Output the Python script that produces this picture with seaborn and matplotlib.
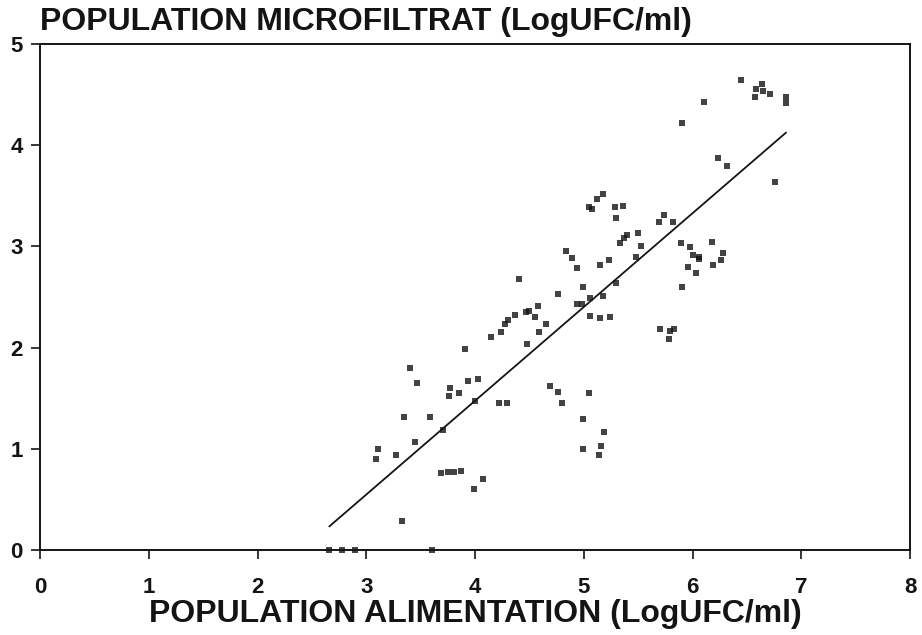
import numpy as np
import pandas as pd
import matplotlib.pyplot as plt
import seaborn as sns

# Population in the feed (x) and in the microfiltrate (y), LogUFC/ml
alimentation = [
    2.66, 2.78, 2.90, 3.60, 3.33, 3.09, 3.11, 3.27, 3.45, 3.35, 3.59, 3.71,
    3.40, 3.47, 3.77, 3.76, 3.85, 3.94, 4.03, 4.00, 4.22, 4.29, 3.69, 3.75,
    3.81, 3.87, 4.07, 3.99, 3.91,
    4.24, 4.15, 4.28, 4.30, 4.37, 4.47, 4.50, 4.58, 4.55, 4.65, 4.59, 4.48,
    4.40, 4.76, 4.84, 4.89, 4.94, 4.99, 4.94, 4.98, 5.06, 5.18, 5.30, 5.06,
    5.15, 5.24, 5.15, 5.23, 5.05, 5.08, 5.12, 5.18, 5.29, 5.36, 5.30, 5.40,
    5.37, 5.33, 5.50, 5.53, 5.48,
    4.69, 4.76, 4.80, 5.05, 4.99, 5.19, 5.16, 4.99, 5.14,
    5.70, 5.83, 5.79, 5.78, 5.69, 5.74, 5.82, 5.89, 5.98, 6.00, 6.06, 6.06,
    5.96, 6.03, 5.90, 6.18, 6.28, 6.26, 6.19,
    5.90, 6.11, 6.23, 6.32, 6.76, 6.45, 6.58, 6.57, 6.64, 6.65, 6.71, 6.86,
    6.86,
]
microfiltrat = [
    0.00, 0.00, 0.00, 0.00, 0.29, 0.90, 0.995, 0.94, 1.07, 1.31, 1.31, 1.19,
    1.80, 1.65, 1.60, 1.52, 1.55, 1.67, 1.69, 1.47, 1.45, 1.45, 0.76, 0.77,
    0.77, 0.78, 0.70, 0.60, 1.99,
    2.15, 2.10, 2.23, 2.27, 2.32, 2.35, 2.36, 2.41, 2.30, 2.23, 2.15, 2.03,
    2.68, 2.53, 2.95, 2.88, 2.79, 2.60, 2.43, 2.43, 2.49, 2.51, 2.64, 2.31,
    2.29, 2.30, 2.82, 2.86, 3.39, 3.37, 3.47, 3.52, 3.39, 3.40, 3.28, 3.11,
    3.08, 3.03, 3.13, 3.00, 2.89,
    1.62, 1.56, 1.45, 1.55, 1.29, 1.17, 1.03, 0.995, 0.94,
    2.18, 2.18, 2.16, 2.08, 3.24, 3.31, 3.24, 3.03, 2.99, 2.91, 2.89, 2.87,
    2.80, 2.74, 2.60, 3.04, 2.93, 2.86, 2.82,
    4.22, 4.43, 3.87, 3.79, 3.64, 4.64, 4.55, 4.48, 4.60, 4.53, 4.50, 4.48,
    4.42,
]

x_ticks = [0, 1, 2, 3, 4, 5, 6, 7, 8]
y_ticks = [0, 1, 2, 3, 4, 5]

df = pd.DataFrame({"alimentation": alimentation, "microfiltrat": microfiltrat})

sns.set_style("white")
plt.rcParams["font.family"] = ["Liberation Sans", "DejaVu Sans"]

ink = "#141414"

fig = plt.figure(figsize=(9.22, 6.35), dpi=100)
ax = fig.add_axes([0.0434, 0.1339, 0.9436, 0.797])

# scatter + least squares line over the data range
sns.regplot(data=df, x="alimentation", y="microfiltrat", ci=None, ax=ax,
            marker="s",
            scatter_kws={"s": 16, "color": ink, "linewidths": 0, "clip_on": False},
            line_kws={"color": ink, "linewidth": 1.3})

ax.set_xlim(0, 8)
ax.set_ylim(0, 5)
ax.set_xticks(x_ticks)
ax.set_yticks(y_ticks)
ax.tick_params(direction="out", length=6.5, width=1.2, color=ink,
               labelsize=16, labelcolor=ink, left=True, bottom=True)
ax.tick_params(axis="x", pad=13)
ax.tick_params(axis="y", pad=6)
for lab in ax.get_xticklabels() + ax.get_yticklabels():
    lab.set_fontweight("bold")
for sp in ax.spines.values():
    sp.set_linewidth(1.4)
    sp.set_color(ink)

ax.set_xlabel("POPULATION ALIMENTATION (LogUFC/ml)", fontsize=23,
              fontweight="bold", color=ink, labelpad=1)
ax.set_ylabel("")
fig.text(0.0434, 0.953, "POPULATION MICROFILTRAT (LogUFC/ml)", fontsize=23,
         fontweight="bold", color=ink, ha="left", va="baseline")

plt.savefig("out.png", dpi=100)
plt.close()
